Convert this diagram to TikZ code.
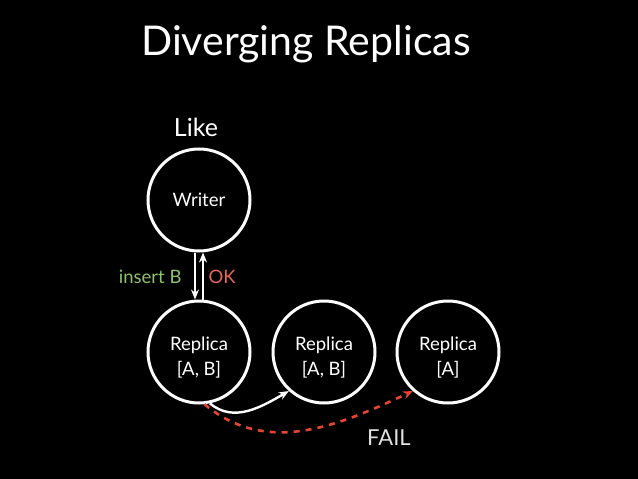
\documentclass[tikz,border=0pt]{standalone}
\usepackage{fontspec}
\setmainfont{Lato}
\usetikzlibrary{arrows.meta}
\definecolor{insertgreen}{HTML}{8DC26F}
\definecolor{okred}{HTML}{E4685A}
\definecolor{failred}{HTML}{E8452F}
\begin{document}
\begin{tikzpicture}[x=1pt,y=-1pt,
  replica/.style={circle,draw=white,line width=3pt,minimum size=102pt,inner sep=0pt,
    text=white,font=\fontsize{18.5}{25}\selectfont,align=center},
  replicatext/.style={text=white,font=\fontsize{18.5}{25}\selectfont,align=center,yshift=-6pt},
  link/.style={white,line width=2.4pt,-{Stealth[length=10pt,width=8pt]}}]
\fill[black] (0,0) rectangle (638,479);
\useasboundingbox (0,0) rectangle (638,479);

\node[text=white,font=\fontsize{41}{48}\selectfont] (title) at (306,44) {Diverging Replicas};
\node[text=white,font=\fontsize{25}{30}\selectfont] (like) at (196,127) {Like};

\node[replica] (writer) at (199,200) {Writer};
\node[replica,label={[replicatext]center:Replica\\{[A, B]}}] (rep1) at (199,352) {};
\node[replica,label={[replicatext]center:Replica\\{[A, B]}}] (rep2) at (324,352) {};
\node[replica,label={[replicatext]center:Replica\\{[A]}}] (rep3) at (448,352) {};

\draw[link] ([xshift=-4pt]writer.south) -- ([xshift=-4pt]rep1.north);
\draw[link] ([xshift=4pt]rep1.north) -- ([xshift=4pt]writer.south);
\node[text=insertgreen,font=\fontsize{18.5}{22}\selectfont,anchor=east] (ins) at (185,277) {insert B};
\node[text=okred,font=\fontsize{18.5}{22}\selectfont,anchor=west] (ok) at (205,277) {OK};

\draw[link] (rep1.-78) to[out=-40,in=210] (rep2.228);
\draw[failred,line width=2.6pt,dash pattern=on 6pt off 6pt,-{Stealth[length=10pt,width=8pt]}]
  (rep1.-84) to[out=-40,in=205] (rep3.228);
\node[text=white!88!black,font=\fontsize{22}{26}\selectfont] (fail) at (389,438) {FAIL};
\end{tikzpicture}
\end{document}
